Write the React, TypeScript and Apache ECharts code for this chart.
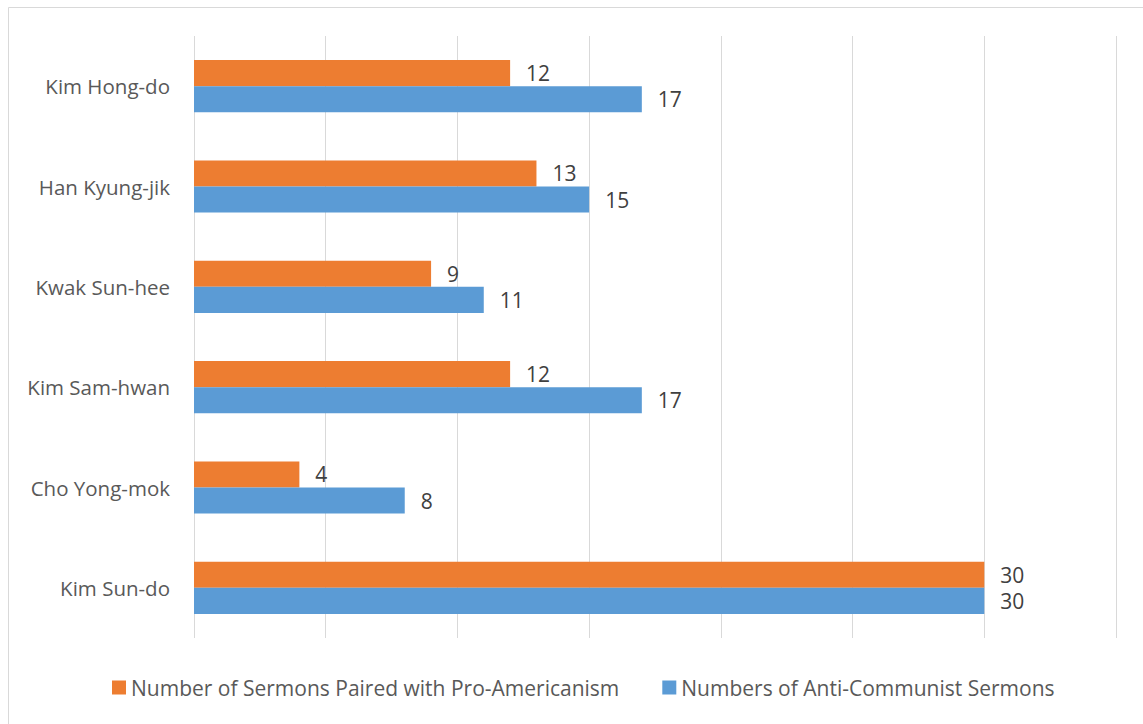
import React, { useEffect, useRef } from "react";
import * as echarts from "echarts";

const categories = ["Kim Sun-do", "Cho Yong-mok", "Kim Sam-hwan", "Kwak Sun-hee", "Han Kyung-jik", "Kim Hong-do"];
const proAmericanism = [30, 4, 12, 9, 13, 12];
const antiCommunist = [30, 8, 17, 11, 15, 17];
const seriesNames = ["Number of Sermons Paired with Pro-Americanism", "Numbers of Anti-Communist Sermons"];

export default function App() {
  const ref = useRef<HTMLDivElement>(null);
  useEffect(() => {
    const chart = echarts.init(ref.current!, null, { renderer: "svg" });
    const font = "'Open Sans', sans-serif";
    chart.setOption({
      animation: false,
      backgroundColor: "#ffffff",
      textStyle: { fontFamily: font },
      graphic: [
        {
          type: "rect",
          shape: { x: 8.5, y: 7.5, width: 1200, height: 800 },
          style: { fill: "none", stroke: "#D9D9D9", lineWidth: 1 },
          silent: true,
        },
      ],
      grid: { left: 194, right: 27, top: 36, bottom: 86, containLabel: false },
      legend: {
        data: seriesNames,
        bottom: 21,
        left: 107,
        itemWidth: 14,
        itemHeight: 14,
        itemGap: 43,
        icon: "rect",
        textStyle: { fontFamily: font, fontSize: 21, color: "#595959" },
      },
      xAxis: {
        type: "value",
        min: 0,
        max: 35,
        interval: 5,
        axisLabel: { show: false },
        axisLine: { show: false },
        axisTick: { show: false },
        splitLine: { show: true, lineStyle: { color: "#D9D9D9", width: 1 } },
      },
      yAxis: {
        type: "category",
        data: categories,
        axisLine: { show: false },
        axisTick: { show: false },
        axisLabel: { fontFamily: font, fontSize: 20.5, color: "#595959", margin: 24 },
      },
      series: [
        {
          name: seriesNames[0],
          type: "bar",
          data: proAmericanism,
          itemStyle: { color: "#ED7D31" },
          barGap: "0%",
          barCategoryGap: "48%",
          label: { show: true, position: "right", distance: 16, fontFamily: font, fontSize: 21, color: "#404040" },
        },
        {
          name: seriesNames[1],
          type: "bar",
          data: antiCommunist,
          itemStyle: { color: "#5B9BD5" },
          barGap: "0%",
          barCategoryGap: "48%",
          label: { show: true, position: "right", distance: 16, fontFamily: font, fontSize: 21, color: "#404040" },
        },
      ],
    });
    return () => chart.dispose();
  }, []);
  return <div ref={ref} style={{ position: "fixed", left: 0, top: 0, width: 1143, height: 724 }} />;
}
